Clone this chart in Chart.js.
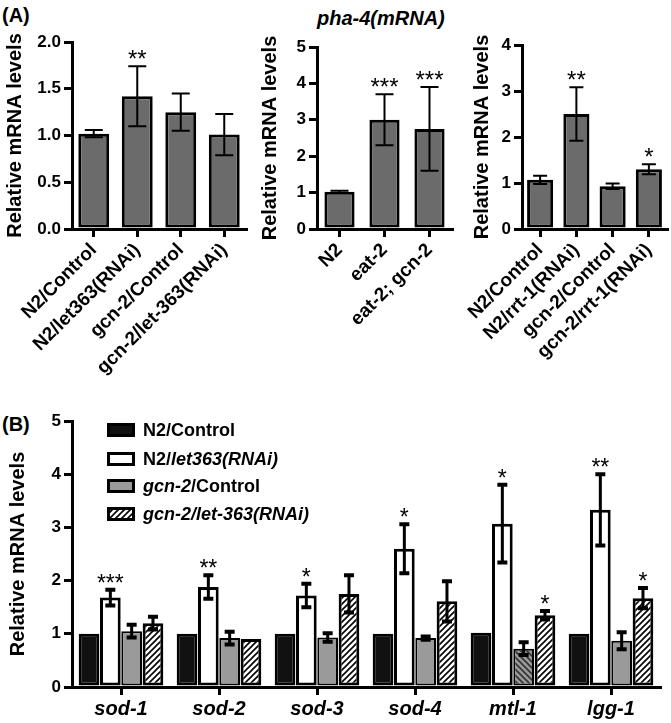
<!DOCTYPE html>
<html>
<head>
<meta charset="utf-8">
<script src="https://cdn.jsdelivr.net/npm/chart.js@4.4.1/dist/chart.umd.min.js"></script>
<style>
body { margin: 0; background: #fff; width: 671px; height: 723px; position: relative; overflow: hidden; font-family: "Liberation Sans", Arial, sans-serif; }
canvas { position: absolute; }
.lbl { position: absolute; font-weight: bold; font-size: 20px; color: #000; line-height: 24px; }
</style>
</head>
<body>
<div class="lbl" style="left:2px;top:3px">(A)</div>
<div class="lbl" style="left:317px;top:6px;font-style:italic">pha-4(mRNA)</div>
<div class="lbl" style="left:2px;top:412px">(B)</div>
<canvas id="a1" width="250" height="400" style="left:0;top:0"></canvas>
<canvas id="a2" width="205" height="400" style="left:250px;top:0"></canvas>
<canvas id="a3" width="216" height="400" style="left:455px;top:0"></canvas>
<canvas id="b" width="671" height="323" style="left:0;top:400px"></canvas>
<script>
const yTitle = 'Relative mRNA levels';

// Panel A, left
const a1Labels = ['N2/Control', 'N2/let363(RNAi)', 'gcn-2/Control', 'gcn-2/let-363(RNAi)'];
const a1Values = [1.02, 1.42, 1.25, 1.01];
const a1Errors = [0.04, 0.32, 0.2, 0.22];
const a1Stars = ['', '**', '', ''];
const a1Ticks = [0, 0.5, 1.0, 1.5, 2.0];

// Panel A, middle
const a2Labels = ['N2', 'eat-2', 'eat-2; gcn-2'];
const a2Values = [1.02, 3.0, 2.75];
const a2Errors = [0.03, 0.7, 1.15];
const a2Stars = ['', '***', '***'];
const a2Ticks = [0, 1, 2, 3, 4, 5];

// Panel A, right
const a3Labels = ['N2/Control', 'N2/rrt-1(RNAi)', 'gcn-2/Control', 'gcn-2/rrt-1(RNAi)'];
const a3Values = [1.07, 2.5, 0.93, 1.3];
const a3Errors = [0.09, 0.58, 0.06, 0.11];
const a3Stars = ['', '**', '', '*'];
const a3Ticks = [0, 1, 2, 3, 4];

// Panel B
const bGenes = ['sod-1', 'sod-2', 'sod-3', 'sod-4', 'mtl-1', 'lgg-1'];
const bSeriesNames = ['N2/Control', 'N2/<i>let363(RNAi)</i>', '<i>gcn-2</i>/Control', '<i>gcn-2/let-363(RNAi)</i>'];
const bN2Control = [1.0, 1.0, 1.0, 1.0, 1.02, 1.0];
const bN2Control_err = [0, 0, 0, 0, 0, 0];
const bN2Let363 = [1.68, 1.88, 1.72, 2.6, 3.07, 3.33];
const bN2Let363_err = [0.15, 0.22, 0.22, 0.46, 0.73, 0.67];
const bN2Let363_stars = ['***', '**', '*', '*', '*', '**'];
const bGcn2Control = [1.05, 0.92, 0.93, 0.92, 0.72, 0.87];
const bGcn2Control_err = [0.12, 0.12, 0.08, 0.03, 0.12, 0.16];
const bGcn2Let363 = [1.2, 0.9, 1.75, 1.61, 1.35, 1.67];
const bGcn2Let363_err = [0.12, 0, 0.35, 0.38, 0.08, 0.19];
const bGcn2Let363_stars = ['', '', '', '', '*', '*'];
const bTicks = [0, 1, 2, 3, 4, 5];

Chart.defaults.font.family = '"Liberation Sans", Arial, sans-serif';
Chart.defaults.color = '#000';
Chart.defaults.animation = false;

function hatch(ctx, bg, fg, reverse) {
    const c = document.createElement('canvas');
    c.width = 6; c.height = 6;
    const g = c.getContext('2d');
    g.fillStyle = bg;
    g.fillRect(0, 0, 6, 6);
    g.strokeStyle = fg;
    g.lineWidth = 1.6;
    g.beginPath();
    if (reverse) {
        g.moveTo(0, 0); g.lineTo(6, 6);
        g.moveTo(5, -1); g.lineTo(7, 1);
        g.moveTo(-1, 5); g.lineTo(1, 7);
    } else {
        g.moveTo(0, 6); g.lineTo(6, 0);
        g.moveTo(-1, 1); g.lineTo(1, -1);
        g.moveTo(5, 7); g.lineTo(7, 5);
    }
    g.stroke();
    return ctx.createPattern(c, 'repeat');
}

// error bars + significance stars
const errorBars = {
    id: 'errorBars',
    afterDatasetsDraw(chart, args, opts) {
        const ctx = chart.ctx;
        const y = chart.scales.y;
        chart.data.datasets.forEach((ds, i) => {
            if (!ds.errors) return;
            const meta = chart.getDatasetMeta(i);
            meta.data.forEach((bar, j) => {
                const v = ds.data[j], e = ds.errors[j];
                const top = y.getPixelForValue(v + e);
                const bot = y.getPixelForValue(v - e);
                ctx.save();
                ctx.strokeStyle = '#000';
                if (e > 0) {
                    ctx.lineWidth = opts.lineWidth;
                    ctx.beginPath();
                    ctx.moveTo(bar.x, top);
                    ctx.lineTo(bar.x, bot);
                    ctx.stroke();
                    ctx.lineWidth = opts.capLineWidth;
                    ctx.beginPath();
                    ctx.moveTo(bar.x - opts.capWidth / 2, top);
                    ctx.lineTo(bar.x + opts.capWidth / 2, top);
                    ctx.moveTo(bar.x - opts.capWidth / 2, bot);
                    ctx.lineTo(bar.x + opts.capWidth / 2, bot);
                    ctx.stroke();
                }
                const s = ds.stars && ds.stars[j];
                if (s) {
                    ctx.fillStyle = '#000';
                    ctx.font = opts.starSize + 'px "Liberation Sans", Arial, sans-serif';
                    ctx.textAlign = 'center';
                    ctx.textBaseline = 'alphabetic';
                    ctx.fillText(s, bar.x, top + opts.starOffset);
                }
                ctx.restore();
            });
        });
    }
};

// legend with mixed italic text (panel B)
const mixedLegend = {
    id: 'mixedLegend',
    afterDraw(chart, args, opts) {
        if (!opts.display) return;
        const ctx = chart.ctx;
        chart.data.datasets.forEach((ds, i) => {
            const cy = opts.rows[i];
            ctx.save();
            ctx.fillStyle = ds.legendFill;
            ctx.fillRect(opts.x, cy - 7, 28, 14);
            ctx.strokeStyle = '#000';
            ctx.lineWidth = 3;
            ctx.strokeRect(opts.x + 1.5, cy - 5.5, 25, 11);
            let tx = opts.x + 36;
            ctx.fillStyle = '#000';
            ctx.textBaseline = 'middle';
            ds.richLabel.split(/(<i>.*?<\/i>)/).filter(p => p).forEach(p => {
                const it = p.startsWith('<i>');
                const t = p.replace(/<\/?i>/g, '');
                ctx.font = (it ? 'italic ' : '') + 'bold 18px "Liberation Sans", Arial, sans-serif';
                ctx.fillText(t, tx, cy + 1);
                tx += ctx.measureText(t).width;
            });
            ctx.restore();
        });
    }
};

function yScale(ticks, yWidth, titlePad, decimals) {
    return {
        min: ticks[0],
        max: ticks[ticks.length - 1],
        afterBuildTicks: s => { s.ticks = ticks.map(v => ({ value: v })); },
        ticks: { color: '#000', font: { size: 17, weight: 'bold' }, padding: 3, callback: v => Number(v).toFixed(decimals) },
        grid: { display: true, drawOnChartArea: false, drawTicks: true, tickLength: 8, color: '#000', lineWidth: 3 },
        border: { display: true, color: '#000', width: 3 },
        title: { display: true, text: yTitle, color: '#000', font: { size: 20, weight: 'bold' }, padding: { top: titlePad, bottom: 0 } },
        afterFit: s => { s.width = yWidth; }
    };
}

function xScale(xHeight, size, rot, style) {
    return {
        offset: true,
        ticks: { color: '#000', font: { size: size, weight: 'bold', style: style }, maxRotation: rot, minRotation: rot, padding: 2, autoSkip: false },
        grid: { display: true, drawOnChartArea: false, offset: false, drawTicks: true, tickLength: 8, color: '#000', lineWidth: 3 },
        border: { display: true, color: '#000', width: 3 },
        afterFit: s => { s.height = xHeight; }
    };
}

function panelA(id, labels, values, errors, stars, ticks, layout, barPct, capWidth) {
    const ctx = document.getElementById(id).getContext('2d');
    return new Chart(ctx, {
        type: 'bar',
        data: {
            labels: labels,
            datasets: [{
                data: values,
                errors: errors,
                stars: stars,
                backgroundColor: '#6b6b6b',
                borderColor: '#000',
                borderWidth: 3,
                borderSkipped: false,
                barPercentage: barPct,
                categoryPercentage: 1
            }]
        },
        options: {
            responsive: false,
            layout: { padding: { left: 0, top: layout.top, right: layout.right, bottom: 0 } },
            scales: {
                x: xScale(400 - 229, 19, 45, 'normal'),
                y: yScale(ticks, layout.yWidth, layout.titlePad, layout.decimals)
            },
            plugins: {
                legend: { display: false },
                tooltip: { enabled: false },
                errorBars: { lineWidth: 2, capLineWidth: 2, capWidth: capWidth, starSize: 24, starOffset: 1 }
            }
        },
        plugins: [errorBars]
    });
}

panelA('a1', a1Labels, a1Values, a1Errors, a1Stars, a1Ticks, { top: 42, right: 4, yWidth: 72, titlePad: 3, decimals: 1 }, 0.71, 18);
panelA('a2', a2Labels, a2Values, a2Errors, a2Stars, a2Ticks, { top: 47, right: 3, yWidth: 67, titlePad: 8, decimals: 0 }, 0.67, 18);
panelA('a3', a3Labels, a3Values, a3Errors, a3Stars, a3Ticks, { top: 45, right: 4, yWidth: 67, titlePad: 15, decimals: 0 }, 0.72, 14);

// Panel B
const bCtx = document.getElementById('b').getContext('2d');
const stripes = hatch(bCtx, '#fff', '#000', false);
const grayStripes = hatch(bCtx, '#9a9a9a', '#333', true);
const bLegendFills = ['#111', '#fff', '#9a9a9a', stripes];
const bFills = ['#111', '#fff', bGenes.map((g, i) => i === 4 ? grayStripes : '#9a9a9a'), stripes];
const bData = [bN2Control, bN2Let363, bGcn2Control, bGcn2Let363];
const bErr = [bN2Control_err, bN2Let363_err, bGcn2Control_err, bGcn2Let363_err];
const bStars = [null, bN2Let363_stars, null, bGcn2Let363_stars];

new Chart(bCtx, {
    type: 'bar',
    data: {
        labels: bGenes,
        datasets: bSeriesNames.map((name, i) => ({
            label: name.replace(/<\/?i>/g, ''),
            richLabel: name,
            legendFill: bLegendFills[i],
            data: bData[i],
            errors: bErr[i],
            stars: bStars[i],
            backgroundColor: bFills[i],
            borderColor: '#000',
            borderWidth: i === 2 ? 2 : 3,
            borderSkipped: false,
            barPercentage: 0.97,
            categoryPercentage: 0.87
        }))
    },
    options: {
        responsive: false,
        layout: { padding: { left: 0, top: 21, right: 11, bottom: 0 } },
        scales: {
            x: xScale(323 - 287, 20, 0, 'italic'),
            y: yScale(bTicks, 72, 6, 0)
        },
        plugins: {
            legend: { display: false },
            tooltip: { enabled: false },
            errorBars: { lineWidth: 3, capLineWidth: 4, capWidth: 10, starSize: 23, starOffset: 1 },
            mixedLegend: { display: true, x: 107, rows: [30, 59, 86, 114] }
        }
    },
    plugins: [errorBars, mixedLegend]
});
</script>
</body>
</html>
